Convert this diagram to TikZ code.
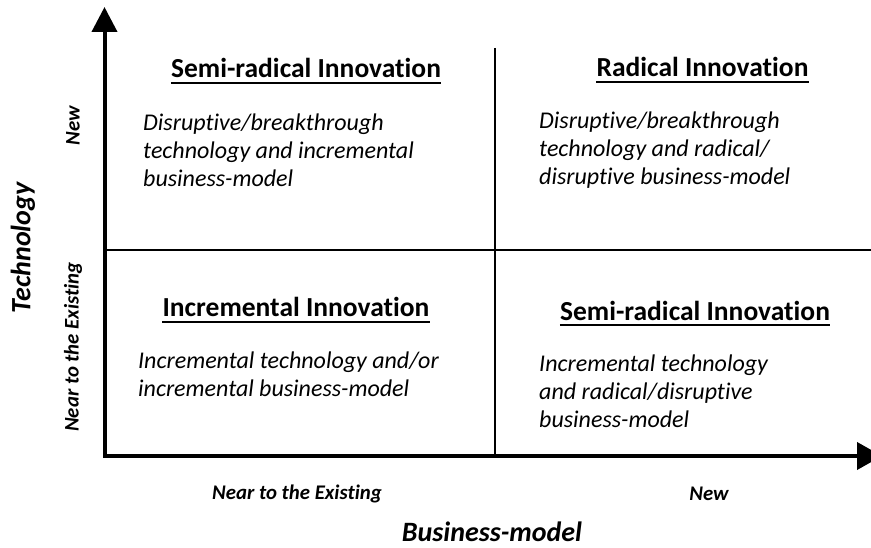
\documentclass[tikz,border=0pt]{standalone}
\usepackage{fontspec}
\setmainfont[Ligatures=CommonOff]{Carlito}
\usetikzlibrary{arrows.meta}
\tikzset{
  axisline/.style={line width=4pt, line join=miter},
  divider/.style={line width=2.5pt},
  quadtitle/.style={font=\fontsize{27.5}{32}\selectfont\bfseries, inner sep=0pt, anchor=base},
  quadtext/.style={font=\fontsize{24}{28}\selectfont\itshape, inner sep=0pt, anchor=north west, align=left},
  axislabel/.style={font=\fontsize{20.8}{24}\selectfont\bfseries\itshape, inner sep=0pt},
  axistitle/.style={font=\fontsize{28}{32}\selectfont\bfseries\itshape, inner sep=0pt},
  uline/.style={line width=2pt}
}
\begin{document}
\begin{tikzpicture}[x=1pt,y=-1pt]
\useasboundingbox (0,0) rectangle (871,548);
% axes
\coordinate (ytop) at (104.5,7);
\coordinate (origin) at (104.5,456);
\coordinate (xend) at (882,456);
\draw[axisline, {Triangle[length=25pt,width=25pt]}-{Triangle[length=25pt,width=27pt]}] (ytop) -- (origin) -- (xend);
% dividers
\coordinate (vtop) at (495,48);
\coordinate (vbot) at (495,456);
\coordinate (hleft) at (104.5,250);
\coordinate (hright) at (871,250);
\draw[divider] (vtop) -- (vbot);
\draw[divider] (hleft) -- (hright);
% titles
\node[quadtitle] (t1) at (306,78) {Semi-radical Innovation};
\node[quadtitle] (t2) at (702.5,77) {Radical Innovation};
\node[quadtitle] (t3) at (296,317) {Incremental Innovation};
\node[quadtitle] (t4) at (695,320) {Semi-radical Innovation};
\foreach \t in {t1,t2,t3,t4}{
  \draw[uline] ([yshift=-5pt]\t.base west) -- ([yshift=-5pt]\t.base east);
}
% quadrant texts
\node[quadtext] (d1) at (143,114) {Disruptive/breakthrough\\technology and incremental\\business-model};
\node[quadtext] (d2) at (539,112) {Disruptive/breakthrough\\technology and radical/\\disruptive business-model};
\node[quadtext] (d3) at (138,352) {Incremental technology and/or\\incremental business-model};
\node[quadtext] (d4) at (539,355) {Incremental technology\\and radical/disruptive\\business-model};
% axis labels
\node[axistitle, rotate=90] (ylab) at (23,248) {Technology};
\node[axislabel, rotate=90] (ynew) at (73,126) {New};
\node[axislabel, rotate=90] (ynear) at (73,347) {Near to the Existing};
\node[axislabel] (xnear) at (297,494) {Near to the Existing};
\node[axislabel] (xnew) at (709,494) {New};
\node[axistitle, anchor=base] (xlab) at (492,541) {Business-model};
\end{tikzpicture}
\end{document}
